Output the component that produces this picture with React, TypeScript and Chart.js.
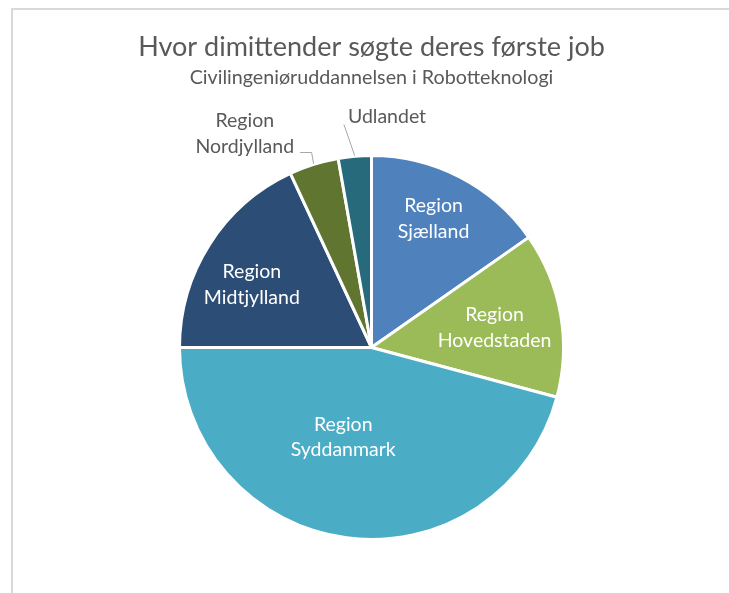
import React, { useEffect, useRef } from "react";
import { Chart, registerables } from "chart.js";

Chart.register(...registerables);

// ---- data ----
const TITLE = "Hvor dimittender søgte deres første job";
const SUBTITLE = "Civilingeniøruddannelsen i Robotteknologi";
const CATEGORIES = [
  "Region Sjælland",
  "Region Hovedstaden",
  "Region Syddanmark",
  "Region Midtjylland",
  "Region Nordjylland",
  "Udlandet",
];
const VALUES = [11, 10, 33, 13, 3, 2];
const COLORS = ["#4F81BD", "#9BBB59", "#4BACC6", "#2C4D75", "#5F7530", "#276A7C"];

// ---- label layout (relative to each slice) ----
const LABEL_INSIDE = [true, true, true, true, false, false];
const LABEL_ANGLE_OFFSET = [-1.95, 0.45, 10.1, -4.55, -13.05, 8.84];
const LABEL_RADIUS = [0.755, 0.655, 0.491, 0.711, 1.309, 1.216];
const LEADER = [null, null, null, null, "elbow", "straight"];

const FONT = "Lato, 'Open Sans', sans-serif";
const LABEL_FS = 19.5;
const LINE_GAP = 25.5;
const GRAY = "#595959";

function splitLabel(s: string): string[] {
  const idx = s.indexOf(" ");
  return idx < 0 ? [s] : [s.slice(0, idx), s.slice(idx + 1)];
}

const sliceLabels = {
  id: "sliceLabels",
  afterDatasetsDraw(chart: any) {
    const ctx = chart.ctx as CanvasRenderingContext2D;
    const meta = chart.getDatasetMeta(0);
    ctx.save();
    ctx.font = `${LABEL_FS}px ${FONT}`;
    ctx.textAlign = "center";
    ctx.textBaseline = "alphabetic";
    const capH = 0.72 * LABEL_FS;
    meta.data.forEach((arc: any, i: number) => {
      const { x, y, startAngle, endAngle, outerRadius } = arc.getProps(
        ["x", "y", "startAngle", "endAngle", "outerRadius"],
        true
      );
      const R = outerRadius - 1.5;
      const mid = (startAngle + endAngle) / 2;
      const a = mid + (LABEL_ANGLE_OFFSET[i] * Math.PI) / 180;
      const cx = x + Math.cos(a) * R * LABEL_RADIUS[i];
      const cy = y + Math.sin(a) * R * LABEL_RADIUS[i];
      const lines = splitLabel(CATEGORIES[i]);
      const n = lines.length;
      ctx.fillStyle = LABEL_INSIDE[i] ? "#FFFFFF" : GRAY;
      const baselines: number[] = [];
      lines.forEach((ln, k) => {
        const my = cy + (k - (n - 1) / 2) * LINE_GAP;
        const by = my + capH / 2;
        baselines.push(by);
        ctx.fillText(ln, cx, by);
      });
      const lead = LEADER[i];
      if (lead) {
        const sx = x + Math.cos(mid) * (outerRadius + 0.5);
        const sy = y + Math.sin(mid) * (outerRadius + 0.5);
        const lastW = ctx.measureText(lines[n - 1]).width;
        const lastB = baselines[n - 1];
        ctx.strokeStyle = "#A6A6A6";
        ctx.lineWidth = 1;
        ctx.beginPath();
        if (lead === "elbow") {
          const ex = cx + lastW / 2 + 6;
          ctx.moveTo(sx, sy);
          ctx.lineTo(sx - 2, lastB);
          ctx.lineTo(ex, lastB);
        } else {
          const ex = cx - lastW / 2 - 4;
          ctx.moveTo(sx, sy);
          ctx.lineTo(ex, lastB + 1);
        }
        ctx.stroke();
      }
    });
    ctx.restore();
  },
};

export default function App() {
  const ref = useRef<HTMLCanvasElement | null>(null);
  useEffect(() => {
    if (!ref.current) return;
    const chart = new Chart(ref.current, {
      type: "pie",
      data: {
        labels: CATEGORIES,
        datasets: [
          {
            data: VALUES,
            backgroundColor: COLORS,
            borderColor: "#FFFFFF",
            borderWidth: 3,
          },
        ],
      },
      options: {
        animation: false,
        responsive: false,
        devicePixelRatio: 1,
        layout: { padding: { top: 0, bottom: 52, left: 1, right: 0 } },
        plugins: {
          legend: { display: false },
          tooltip: { enabled: false },
          title: {
            display: true,
            text: TITLE,
            color: GRAY,
            font: { family: FONT, size: 27, weight: "normal", lineHeight: 0.88 },
            padding: { top: 25.0, bottom: 8.77 },
          },
          subtitle: {
            display: true,
            text: SUBTITLE,
            color: GRAY,
            font: { family: FONT, size: 19.7, weight: "normal", lineHeight: 1 },
            padding: { top: 0, bottom: 66.77 },
          },
        },
      },
      plugins: [sliceLabels],
    });
    return () => chart.destroy();
  }, []);

  return (
    <div
      style={{
        position: "fixed",
        left: 11,
        top: 8,
        width: 718,
        height: 585,
        boxSizing: "border-box",
        borderTop: "2px solid #D9D9D9",
        borderLeft: "2px solid #D9D9D9",
        background: "#FFFFFF",
      }}
    >
      <canvas ref={ref} width={716} height={583} style={{ display: "block", width: 716, height: 583 }} />
    </div>
  );
}
